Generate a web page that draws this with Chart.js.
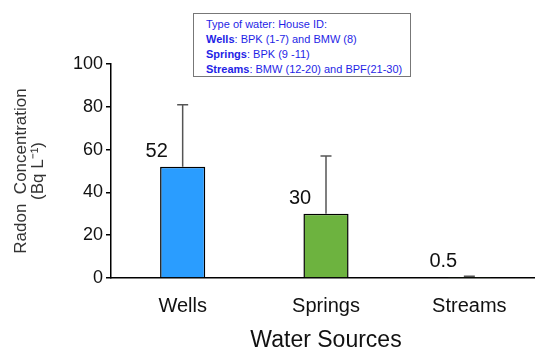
<!DOCTYPE html>
<html>
<head>
<meta charset="utf-8">
<script src="https://cdn.jsdelivr.net/npm/chart.js@4/dist/chart.umd.min.js"></script>
<style>
  html,body{margin:0;padding:0;background:#fff;}
  #wrap{position:relative;width:535px;height:354px;overflow:hidden;}
  #c{position:absolute;left:0;top:0;}
  #legendBox{position:absolute;left:193px;top:13px;width:218px;height:64px;border:1px solid #777;box-sizing:border-box;
    font-family:"Liberation Sans",Arial,sans-serif;font-size:11px;color:#1f1fe6;line-height:15px;padding:3px 0 0 12px;background:#fff;z-index:2;}
  #legendBox b{font-weight:bold;}
</style>
</head>
<body>
<div id="wrap">
  <canvas id="c" width="541" height="354"></canvas>
  <div id="legendBox">
    Type of water: House ID:<br>
    <b>Wells</b>: BPK (1-7) and BMW (8)<br>
    <b>Springs</b>: BPK (9 -11)<br>
    <b>Streams</b>: BMW (12-20) and BPF(21-30)
  </div>
</div>
<script>
const categories = ["Wells", "Springs", "Streams"];
const means = [52, 30, 0.5];
const errors = [29, 27, 0.3];
const valueLabels = ["52", "30", "0.5"];
const barColors = ["#2A9DFF", "#6DB33F", "#6DB33F"];
const yTicks = [0, 20, 40, 60, 80, 100];

const FONT = "'Liberation Sans', Arial, sans-serif";

const errorBarPlugin = {
  id: 'errorBars',
  afterDatasetsDraw(chart) {
    const ctx = chart.ctx;
    const meta = chart.getDatasetMeta(0);
    const y = chart.scales.y;
    ctx.save();
    meta.data.forEach((bar, i) => {
      const x = bar.x;
      const top = y.getPixelForValue(means[i] + errors[i]);
      const base = y.getPixelForValue(means[i]);
      ctx.strokeStyle = '#555';
      ctx.lineWidth = 1.5;
      ctx.beginPath();
      ctx.moveTo(x, base);
      ctx.lineTo(x, top);
      ctx.moveTo(x - 5.5, top);
      ctx.lineTo(x + 5.5, top);
      ctx.stroke();
      ctx.fillStyle = '#111';
      ctx.font = "20px " + FONT;
      ctx.textAlign = 'center';
      ctx.textBaseline = 'middle';
      ctx.fillText(valueLabels[i], x - 26, base - 15);
    });
    ctx.restore();
  }
};

new Chart(document.getElementById('c'), {
  type: 'bar',
  data: {
    labels: categories,
    datasets: [{
      data: means,
      backgroundColor: barColors,
      borderColor: '#000',
      borderWidth: 1.5,
      barPercentage: 0.315,
      categoryPercentage: 1.0
    }]
  },
  options: {
    responsive: false,
    animation: false,
    layout: { padding: { top: 64, right: 0, left: 0, bottom: 0 } },
    plugins: { legend: { display: false }, tooltip: { enabled: false } },
    scales: {
      x: {
        grid: { display: false },
        border: { display: true, color: '#000', width: 1.5 },
        ticks: { color: '#111', font: { family: FONT, size: 20 }, padding: 8 },
        title: { display: true, text: 'Water Sources', color: '#111', font: { family: FONT, size: 23 }, padding: { top: 3, bottom: 0 } },
        afterFit(s) { s.height = 76; }
      },
      y: {
        min: 0, max: 100,
        afterBuildTicks(s) { s.ticks = yTicks.map(v => ({ value: v })); },
        grid: { drawOnChartArea: false, drawTicks: true, tickLength: 5, color: '#000', lineWidth: 1.5 },
        border: { display: true, color: '#000', width: 1.5 },
        ticks: { color: '#111', font: { family: FONT, size: 18 }, padding: 3 },
        title: { display: true, text: ['Radon  Concentration', '(Bq L\u207B\u00B9)'], color: '#333', font: { family: FONT, size: 17, lineHeight: 1.0 }, padding: { top: 13, bottom: 0 } },
        afterFit(s) { s.width = 111; }
      }
    }
  },
  plugins: [errorBarPlugin]
});
</script>
</body>
</html>
